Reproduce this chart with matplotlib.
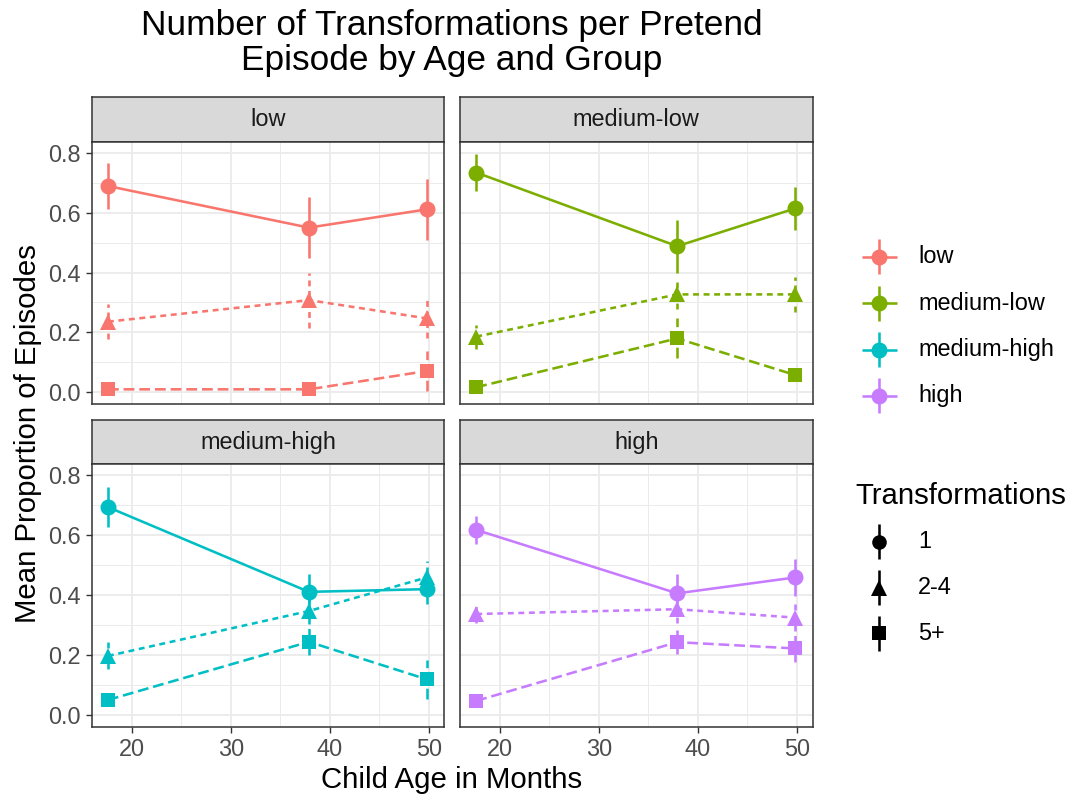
import matplotlib
matplotlib.use("Agg")
import matplotlib.pyplot as plt
from matplotlib.ticker import MultipleLocator, FormatStrFormatter

plt.rcParams["font.family"] = ["Liberation Sans", "DejaVu Sans"]

# ---- data -------------------------------------------------------------
ages = [17.6, 37.9, 49.8]
groups = ["low", "medium-low", "medium-high", "high"]
transformations = ["1", "2-4", "5+"]
group_colors = ["#F8766D", "#7CAE00", "#00BFC4", "#C77CFF"]

# mean proportion of episodes, rows = groups, columns = ages
mean_one = [[0.689, 0.550, 0.611],
            [0.734, 0.488, 0.614],
            [0.694, 0.411, 0.420],
            [0.618, 0.406, 0.459]]
mean_two_four = [[0.236, 0.308, 0.247],
                 [0.186, 0.327, 0.327],
                 [0.197, 0.347, 0.459],
                 [0.337, 0.353, 0.325]]
mean_five_plus = [[0.010, 0.010, 0.071],
                  [0.017, 0.180, 0.058],
                  [0.050, 0.244, 0.119],
                  [0.047, 0.243, 0.222]]

# standard errors (half-length of the error bars)
se_one = [[0.078, 0.103, 0.103],
          [0.061, 0.088, 0.073],
          [0.067, 0.060, 0.050],
          [0.048, 0.065, 0.061]]
se_two_four = [[0.058, 0.092, 0.065],
               [0.040, 0.050, 0.058],
               [0.045, 0.045, 0.055],
               [0.030, 0.045, 0.045]]
se_five_plus = [[0.008, 0.008, 0.068],
                [0.012, 0.067, 0.012],
                [0.012, 0.045, 0.065],
                [0.015, 0.040, 0.045]]

# ---- styling ------------------------------------------------------------
W, H = 1076, 800
DPI = 100
LW = 1.85
markers = ["o", "^", "s"]
marker_sizes = [11.5, 12.0, 10.4]
line_styles = ["solid", (0, (2.3, 1.8)), (0, (4.2, 1.9))]
frame_col = "#333333"
grid_col = "#EBEBEB"
tick_text_col = "#4D4D4D"
fs_tick = 16.9
fs_axis = 21.2
fs_title = 25.4

fig = plt.figure(figsize=(W / DPI, H / DPI), dpi=DPI)


def fig_rect(x0, y0, x1, y1):
    """Convert a pixel box (top-left origin) to figure-fraction rect."""
    return [x0 / W, 1 - y1 / H, (x1 - x0) / W, (y1 - y0) / H]


col_x = [(91.7, 444.3), (460.0, 812.6)]
row_y = [(97.3, 141.7, 404.0), (420.0, 464.3, 726.6)]

means = [mean_one, mean_two_four, mean_five_plus]
ses = [se_one, se_two_four, se_five_plus]

for gi, group in enumerate(groups):
    r, c = divmod(gi, 2)
    x0, x1 = col_x[c]
    ys, yp, yb = row_y[r]

    # strip
    sax = fig.add_axes(fig_rect(x0, ys, x1, yp))
    sax.set_facecolor("#D9D9D9")
    sax.set_xticks([])
    sax.set_yticks([])
    for sp in sax.spines.values():
        sp.set_color(frame_col)
        sp.set_linewidth(1.1)
    sax.text(0.5, 0.5, group, ha="center", va="center",
             fontsize=fs_tick, color="#1A1A1A", transform=sax.transAxes)

    # panel
    ax = fig.add_axes(fig_rect(x0, yp, x1, yb))
    ax.set_xlim(15.96, 51.58)
    ax.set_ylim(-0.039, 0.837)
    ax.xaxis.set_major_locator(MultipleLocator(10))
    ax.xaxis.set_minor_locator(MultipleLocator(5))
    ax.yaxis.set_major_locator(MultipleLocator(0.2))
    ax.yaxis.set_minor_locator(MultipleLocator(0.1))
    ax.grid(which="major", color=grid_col, lw=1.3)
    ax.grid(which="minor", color=grid_col, lw=0.7)
    ax.set_axisbelow(True)
    for sp in ax.spines.values():
        sp.set_color(frame_col)
        sp.set_linewidth(1.1)
    ax.tick_params(which="major", length=4.5, width=1.0, color=frame_col,
                   labelsize=fs_tick, labelcolor=tick_text_col, pad=3.5)
    ax.tick_params(which="minor", length=0)
    ax.yaxis.set_major_formatter(FormatStrFormatter("%.1f"))
    if c == 1:
        ax.tick_params(axis="y", which="major", labelleft=False, length=0)
    if r == 0:
        ax.tick_params(axis="x", which="major", labelbottom=False, length=0)

    color = group_colors[gi]
    for ti in range(len(transformations)):
        m = means[ti][gi]
        e = ses[ti][gi]
        ax.plot(ages, m, color=color, lw=LW, ls=line_styles[ti], zorder=2,
                solid_capstyle="butt", dash_capstyle="butt")
        ax.vlines(ages, [v - d for v, d in zip(m, e)],
                  [v + d for v, d in zip(m, e)], colors=color, lw=LW,
                  linestyles=line_styles[ti], zorder=2)
        ax.plot(ages, m, ls="none", marker=markers[ti],
                ms=marker_sizes[ti], color=color, mec=color, mew=0,
                zorder=3)

# ---- titles -------------------------------------------------------------
fig.text(452 / W, 1 - 43 / H,
         "Number of Transformations per Pretend\nEpisode by Age and Group",
         ha="center", va="center", fontsize=fs_title, color="black",
         linespacing=1.05)
fig.text(452 / W, 1 - 780 / H, "Child Age in Months", ha="center",
         va="center", fontsize=fs_axis, color="black")
fig.text(28 / W, 1 - 434 / H, "Mean Proportion of Episodes", ha="center",
         va="center", rotation=90, fontsize=fs_axis, color="black")

# ---- legends ------------------------------------------------------------
lax = fig.add_axes([0, 0, 1, 1])
lax.set_xlim(0, W)
lax.set_ylim(H, 0)
lax.axis("off")

key_x = 879
half = 17.5
for gi, group in enumerate(groups):
    ky = 256.7 + gi * 46.4
    col = group_colors[gi]
    lax.plot([key_x - half, key_x + half], [ky, ky], color=col, lw=LW,
             solid_capstyle="butt")
    lax.plot([key_x, key_x], [ky - half, ky + half], color=col, lw=LW,
             solid_capstyle="butt")
    lax.plot([key_x], [ky], marker="o", ms=11.5, color=col, mew=0)
    lax.text(918, ky, group, ha="left", va="center", fontsize=fs_tick,
             color="black")

lax.text(855, 496, "Transformations", ha="left", va="center",
         fontsize=fs_axis, color="black")
for ti, lab in enumerate(transformations):
    ky = 541.7 + ti * 45.8
    lax.plot([key_x, key_x], [ky - half, ky + half], color="black", lw=LW,
             solid_capstyle="butt")
    lax.plot([key_x], [ky], marker=markers[ti], ms=marker_sizes[ti] - 1,
             color="black", mew=0)
    lax.text(918, ky, lab, ha="left", va="center", fontsize=fs_tick,
             color="black")

fig.savefig("out.png", dpi=DPI, facecolor="white")
